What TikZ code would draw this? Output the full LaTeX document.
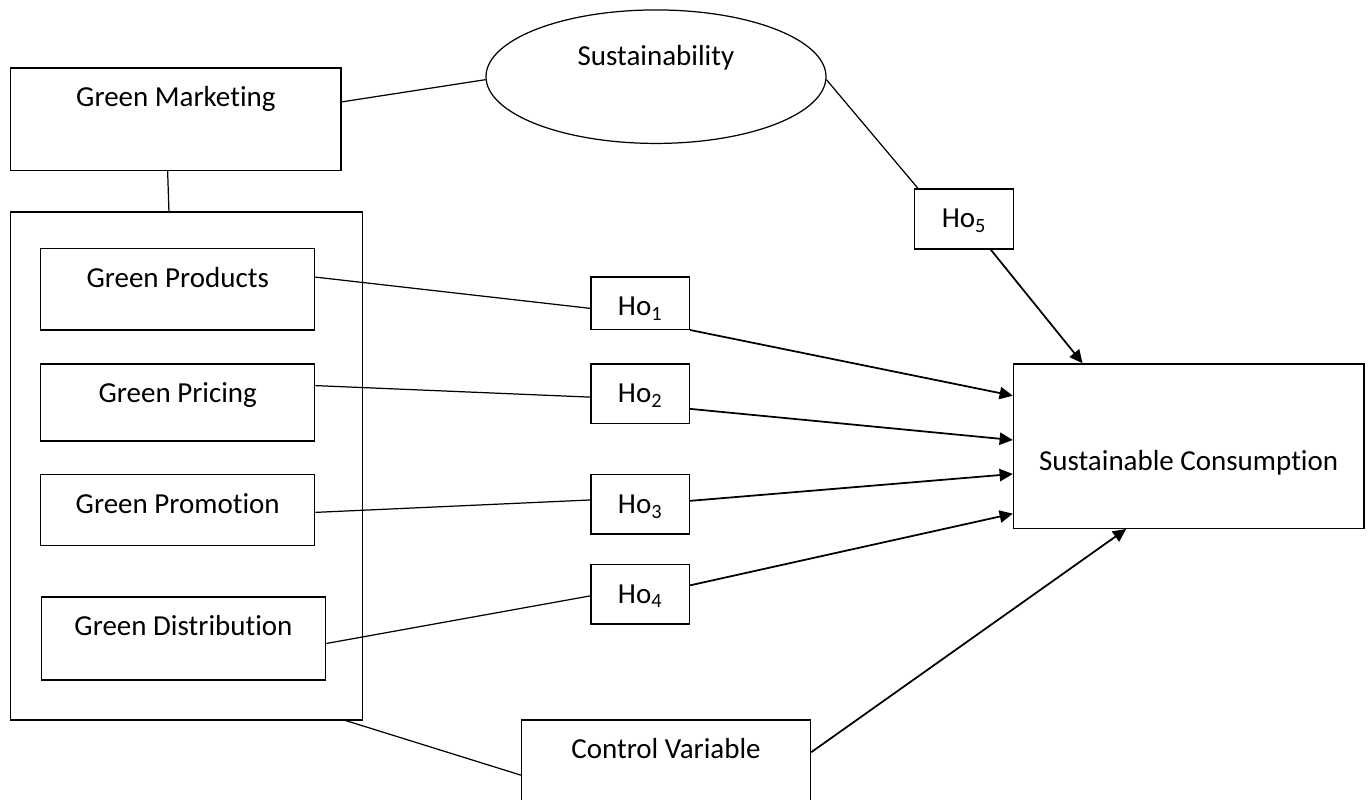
\documentclass[tikz,border=0pt]{standalone}
\usepackage{fontspec}
\setmainfont{Carlito}[Ligatures=NoCommon]
\usetikzlibrary{arrows.meta,shapes.geometric}

\begin{document}
\begin{tikzpicture}[
    box/.style={draw, line width=0.7pt, inner sep=0pt},
    txt/.style={anchor=base, yshift=-0.79cm, inner sep=0pt},
    hobox/.style={box, minimum width=1.97cm, minimum height=1.19cm},
    link/.style={line width=0.7pt},
    arr/.style={line width=1pt, -{Triangle[length=7.5pt, width=7pt]}},
    font=\fontsize{16.5}{20}\selectfont]
    \useasboundingbox (0,0) rectangle (27.38,16);
    \clip (0,0) rectangle (27.38,16);

    % left column
    \node[box, minimum width=6.61cm, minimum height=2.05cm, label={[txt]north:Green Marketing}] (gm) at (3.517,13.613) {};
    \node[box, minimum width=7.04cm, minimum height=10.16cm] (grp) at (3.735,6.68) {};
    \node[box, minimum width=5.48cm, minimum height=1.63cm, label={[txt]north:Green Products}] (gprod) at (3.554,10.217) {};
    \node[box, minimum width=5.48cm, minimum height=1.54cm, label={[txt]north:Green Pricing}] (gpric) at (3.554,7.95) {};
    \node[box, minimum width=5.48cm, minimum height=1.43cm, label={[txt]north:Green Promotion}] (gprom) at (3.554,5.80) {};
    \node[box, minimum width=5.69cm, minimum height=1.66cm, label={[txt]north:Green Distribution}] (gdist) at (3.67,3.23) {};

    % moderators and outcome
    \node[box, ellipse, minimum width=6.8cm, minimum height=2.67cm, label={[txt, yshift=-0.33cm]north:Sustainability}] (sus) at (13.12,14.466) {};
    \node[box, minimum width=7.01cm, minimum height=3.29cm, label={[txt, yshift=-1.35cm]north:Sustainable Consumption}] (sc) at (23.773,7.077) {};
    \node[box, minimum width=5.78cm, minimum height=1.8cm, label={[txt]north:Control Variable}] (cv) at (13.32,0.70) {};

    % hypotheses
    \node[hobox, minimum height=1.05cm, label={[txt]north:Ho\textsubscript{1}}] (ho1) at (12.804,9.937) {};
    \node[hobox, label={[txt]north:Ho\textsubscript{2}}] (ho2) at (12.804,8.127) {};
    \node[hobox, label={[txt]north:Ho\textsubscript{3}}] (ho3) at (12.804,5.913) {};
    \node[hobox, label={[txt]north:Ho\textsubscript{4}}] (ho4) at (12.804,4.117) {};
    \node[hobox, minimum width=1.98cm, minimum height=1.2cm, label={[txt]north:Ho\textsubscript{5}}] (ho5) at (19.282,11.62) {};

    \draw[link] (gm.6.4) -- (sus.181);
    \draw[link] (gm.-99.8) -- (grp.94.4);
    \draw[link] (sus.-1.7) -- ([xshift=0.08cm]ho5.north west);
    \draw[arr] (ho5.-49.2) -- (sc.142.1);

    \draw[link] (gprod.5.2) -- (ho1.186.7);
    \draw[link] (gpric.7.3) -- (ho2.184.2);
    \draw[link] (gprom.-1.4) -- (ho3.175.8);
    \draw[link] (gdist.-2.2) -- (ho4.182.9);

    \draw[arr] (ho1.south east) -- (sc.164.1);
    \draw[arr] (ho2.-17.7) -- (sc.178.2);
    \draw[arr] (ho3.4.2) -- (sc.189);
    \draw[arr] (ho4.10.3) -- (sc.201.2);

    \draw[link] (grp.-58.6) -- (cv.184.2);
    \draw[arr] (cv.5) -- (sc.233.7);
  \end{tikzpicture}
\end{document}
